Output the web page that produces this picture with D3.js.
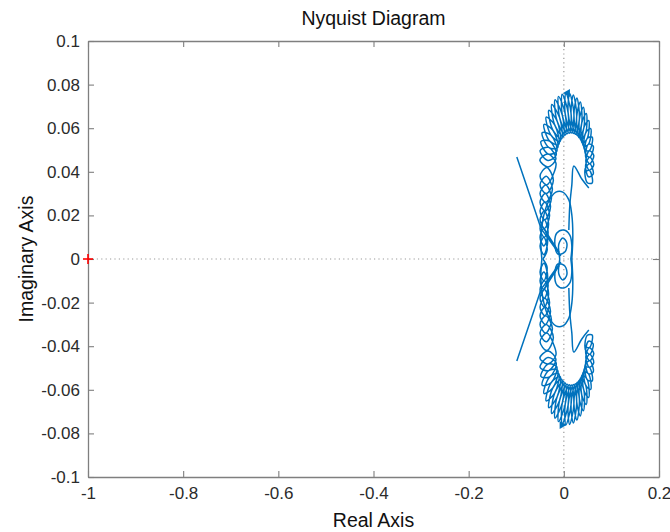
<!DOCTYPE html>
<html>
<head>
<meta charset="utf-8">
<script src="https://cdn.jsdelivr.net/npm/d3@7"></script>
<style>
  html, body { margin: 0; padding: 0; background: #fff; }
  svg { display: block; font-family: "Liberation Sans", Arial, Helvetica, sans-serif; }
</style>
</head>
<body>
<svg id="chart" width="670" height="532"></svg>
<script>
// Axis ticks
const xTicks = [-1, -0.8, -0.6, -0.4, -0.2, 0, 0.2];
const yTicks = [0.1, 0.08, 0.06, 0.04, 0.02, 0, -0.02, -0.04, -0.06, -0.08, -0.1];

// Positive-frequency branch of the response, as [Re, Im] pairs.
// The negative-frequency branch is its complex conjugate.

// Coiled outer lobe (resonance loops), from the lower tip round the top
const lobe = [
  [0.0435, 0.0398], [0.0536, 0.0407], [0.0596, 0.0349], [0.0494, 0.0350],
  [0.0450, 0.0415], [0.0545, 0.0437], [0.0618, 0.0390], [0.0519, 0.0377],
  [0.0459, 0.0432], [0.0545, 0.0467], [0.0629, 0.0433], [0.0536, 0.0407],
  [0.0462, 0.0450], [0.0536, 0.0497], [0.0629, 0.0475], [0.0545, 0.0437],
  [0.0459, 0.0468], [0.0519, 0.0527], [0.0618, 0.0518], [0.0545, 0.0467],
  [0.0450, 0.0485], [0.0494, 0.0554], [0.0596, 0.0559], [0.0536, 0.0497],
  [0.0435, 0.0502], [0.0462, 0.0580], [0.0564, 0.0598], [0.0519, 0.0527],
  [0.0414, 0.0518], [0.0422, 0.0603], [0.0522, 0.0635], [0.0494, 0.0554],
  [0.0388, 0.0532], [0.0377, 0.0624], [0.0471, 0.0667], [0.0462, 0.0580],
  [0.0358, 0.0545], [0.0326, 0.0641], [0.0412, 0.0696], [0.0422, 0.0603],
  [0.0323, 0.0556], [0.0270, 0.0654], [0.0347, 0.0720], [0.0377, 0.0624],
  [0.0285, 0.0565], [0.0212, 0.0664], [0.0275, 0.0739], [0.0326, 0.0641],
  [0.0244, 0.0572], [0.0151, 0.0669], [0.0200, 0.0752], [0.0270, 0.0654],
  [0.0202, 0.0576], [0.0090, 0.0670], [0.0122, 0.0759], [0.0212, 0.0664],
  [0.0158, 0.0578], [0.0028, 0.0667], [0.0043, 0.0761], [0.0151, 0.0669],
  [0.0114, 0.0577], [-0.0031, 0.0659], [-0.0035, 0.0756], [0.0090, 0.0670],
  [0.0071, 0.0574], [-0.0088, 0.0648], [-0.0112, 0.0746], [0.0028, 0.0667],
  [0.0029, 0.0569], [-0.0142, 0.0633], [-0.0186, 0.0730], [-0.0031, 0.0659],
  [-0.0011, 0.0561], [-0.0190, 0.0614], [-0.0254, 0.0709], [-0.0088, 0.0648],
  [-0.0047, 0.0551], [-0.0233, 0.0592], [-0.0316, 0.0682], [-0.0142, 0.0633],
  [-0.0080, 0.0539], [-0.0269, 0.0568], [-0.0371, 0.0651], [-0.0190, 0.0614],
  [-0.0108, 0.0525], [-0.0298, 0.0541], [-0.0418, 0.0617], [-0.0233, 0.0592],
  [-0.0131, 0.0510], [-0.0319, 0.0512], [-0.0455, 0.0579], [-0.0269, 0.0568],
  [-0.0149, 0.0494], [-0.0332, 0.0482], [-0.0482, 0.0539], [-0.0298, 0.0541],
  [-0.0161, 0.0477], [-0.0336, 0.0452], [-0.0499, 0.0497], [-0.0319, 0.0512],
  [-0.0167, 0.0459], [-0.0332, 0.0422], [-0.0504, 0.0454], [-0.0332, 0.0482],
  [-0.0167, 0.0441],
  // descending leg toward the real axis
  [-0.0200, 0.0400], [-0.0360, 0.0340], [-0.0500, 0.0380], [-0.0360, 0.0420],
  [-0.0220, 0.0360], [-0.0370, 0.0300], [-0.0500, 0.0340], [-0.0370, 0.0380],
  [-0.0240, 0.0320], [-0.0380, 0.0260], [-0.0500, 0.0300], [-0.0380, 0.0340],
  [-0.0260, 0.0280], [-0.0390, 0.0220], [-0.0500, 0.0260], [-0.0390, 0.0300],
  [-0.0280, 0.0240], [-0.0400, 0.0180], [-0.0500, 0.0220], [-0.0400, 0.0260],
  [-0.0300, 0.0200], [-0.0410, 0.0140], [-0.0500, 0.0180], [-0.0410, 0.0220],
  [-0.0320, 0.0160], [-0.0410, 0.0100], [-0.0500, 0.0140], [-0.0410, 0.0180],
  [-0.0330, 0.0120], [-0.0420, 0.0060], [-0.0500, 0.0100], [-0.0420, 0.0140],
  [-0.0340, 0.0080], [-0.0420, 0.0020], [-0.0500, 0.0060], [-0.0420, 0.0100],
  [-0.0350, 0.0040], [-0.0440, 0.0000]
];

// Inner closed loop around the origin
const innerLoop = [
  [-0.0462, 0.0000], [-0.0483, 0.0087], [-0.0441, 0.0179], [-0.0336, 0.0257],
  [-0.0168, 0.0307], [-0.0021, 0.0307], [0.0105, 0.0271], [0.0168, 0.0202],
  [0.0189, 0.0110], [0.0168, 0.0000]
];

// Small knot near the origin
const knot = [
  [0.0147, 0.0000], [0.0168, 0.0060], [0.0126, 0.0110], [0.0000, 0.0133],
  [-0.0147, 0.0119], [-0.0189, 0.0069], [-0.0126, 0.0023], [0.0021, 0.0032],
  [0.0063, 0.0073], [-0.0021, 0.0096], [-0.0105, 0.0069], [-0.0084, 0.0000]
];

// Hook leaving the tip of the lobe
const hook = [
  [0.0525, 0.0326], [0.0378, 0.0367], [0.0210, 0.0427], [0.0168, 0.0339],
  [0.0126, 0.0248], [0.0105, 0.0133]
];

// Straight spur toward the left
const spur = [
  [-0.0988, 0.0468], [-0.0652, 0.0252], [-0.0483, 0.0142]
];

// Fast crossings near the real axis
const crossings = [
  [-0.0483, 0.0161], [-0.0105, 0.0032], [-0.0441, 0.0128], [-0.0063, 0.0014]
];

// Direction markers: [Re, Im, rotation in degrees]
const arrows = [
  [0.0080, 0.0761, -90],
  [-0.0040, -0.0761, 90]
];

// Critical point
const critical = [[-1, 0]];

const W = 670, H = 532;
const margin = { top: 41, right: 11, bottom: 55, left: 88 };
const blue = "#0072BD";
const boxColor = "#7f7f7f";
const textColor = "#2b2b2b";

const svg = d3.select("#chart");

const x = d3.scaleLinear().domain([-1, 0.2]).range([margin.left, W - margin.right]);
const y = d3.scaleLinear().domain([-0.1, 0.1]).range([H - margin.bottom, margin.top]);

const fmt = d => String(d);

// Zero reference lines
const ref = svg.append("g")
  .attr("stroke", "#9a9a9a")
  .attr("stroke-width", 1.2)
  .attr("stroke-dasharray", "1.2,3.2");
ref.append("line")
  .attr("x1", x(-1)).attr("x2", x(0.2))
  .attr("y1", y(0)).attr("y2", y(0));
ref.append("line")
  .attr("x1", x(0)).attr("x2", x(0))
  .attr("y1", y(-0.1)).attr("y2", y(0.1));

// Curve
const smooth = d3.line()
  .x(d => x(d[0]))
  .y(d => y(d[1]))
  .curve(d3.curveCatmullRom.alpha(0.5));
const straight = d3.line().x(d => x(d[0])).y(d => y(d[1]));
const conj = arr => arr.map(d => [d[0], -d[1]]);

const curves = svg.append("g")
  .attr("fill", "none")
  .attr("stroke", blue)
  .attr("stroke-width", 1.5)
  .attr("stroke-linejoin", "round");

[lobe, innerLoop, knot, hook].forEach(arr => {
  curves.append("path").attr("d", smooth(arr));
  curves.append("path").attr("d", smooth(conj(arr)));
});
[spur, crossings].forEach(arr => {
  curves.append("path").attr("d", straight(arr));
  curves.append("path").attr("d", straight(conj(arr)));
});

// Arrowheads
svg.append("g").selectAll("path")
  .data(arrows)
  .join("path")
  .attr("d", d3.symbol(d3.symbolTriangle, 28))
  .attr("fill", blue)
  .attr("transform", d => `translate(${x(d[0])},${y(d[1])}) rotate(${d[2]})`);

// Axes box with inward ticks
function styleAxis(g) {
  g.selectAll("path.domain").attr("stroke", boxColor).attr("stroke-width", 1.3);
  g.selectAll(".tick line").attr("stroke", boxColor).attr("stroke-width", 1.1);
  g.selectAll(".tick text")
    .attr("fill", textColor)
    .attr("font-size", 17)
    .attr("font-family", "\"Liberation Sans\", Arial, sans-serif");
}

svg.append("g")
  .attr("transform", `translate(0,${y(-0.1)})`)
  .call(d3.axisBottom(x).tickValues(xTicks).tickFormat(fmt).tickSizeInner(-6).tickSizeOuter(0).tickPadding(10))
  .call(styleAxis);

svg.append("g")
  .attr("transform", `translate(0,${y(0.1)})`)
  .call(d3.axisTop(x).tickValues(xTicks).tickFormat("").tickSizeInner(-6).tickSizeOuter(0))
  .call(styleAxis);

svg.append("g")
  .attr("transform", `translate(${x(-1)},0)`)
  .call(d3.axisLeft(y).tickValues(yTicks).tickFormat(fmt).tickSizeInner(-6).tickSizeOuter(0).tickPadding(8))
  .call(styleAxis);

svg.append("g")
  .attr("transform", `translate(${x(0.2)},0)`)
  .call(d3.axisRight(y).tickValues(yTicks).tickFormat("").tickSizeInner(-6).tickSizeOuter(0))
  .call(styleAxis);

// Critical point marker (-1, 0)
const plus = svg.append("g")
  .attr("stroke", "#ff0000")
  .attr("stroke-width", 1.6);
critical.forEach(p => {
  plus.append("line")
    .attr("x1", x(p[0]) - 5).attr("x2", x(p[0]) + 5)
    .attr("y1", y(p[1])).attr("y2", y(p[1]));
  plus.append("line")
    .attr("x1", x(p[0])).attr("x2", x(p[0]))
    .attr("y1", y(p[1]) - 5).attr("y2", y(p[1]) + 5);
});

// Titles
svg.append("text")
  .attr("x", (x(-1) + x(0.2)) / 2)
  .attr("y", 25)
  .attr("text-anchor", "middle")
  .attr("font-size", 19.5)
  .attr("fill", "#111")
  .text("Nyquist Diagram");

svg.append("text")
  .attr("x", (x(-1) + x(0.2)) / 2)
  .attr("y", 527)
  .attr("text-anchor", "middle")
  .attr("font-size", 19.5)
  .attr("fill", "#111")
  .text("Real Axis");

svg.append("text")
  .attr("transform", `translate(33,${y(0)}) rotate(-90)`)
  .attr("text-anchor", "middle")
  .attr("font-size", 19.5)
  .attr("fill", "#111")
  .text("Imaginary Axis");
</script>
</body>
</html>
